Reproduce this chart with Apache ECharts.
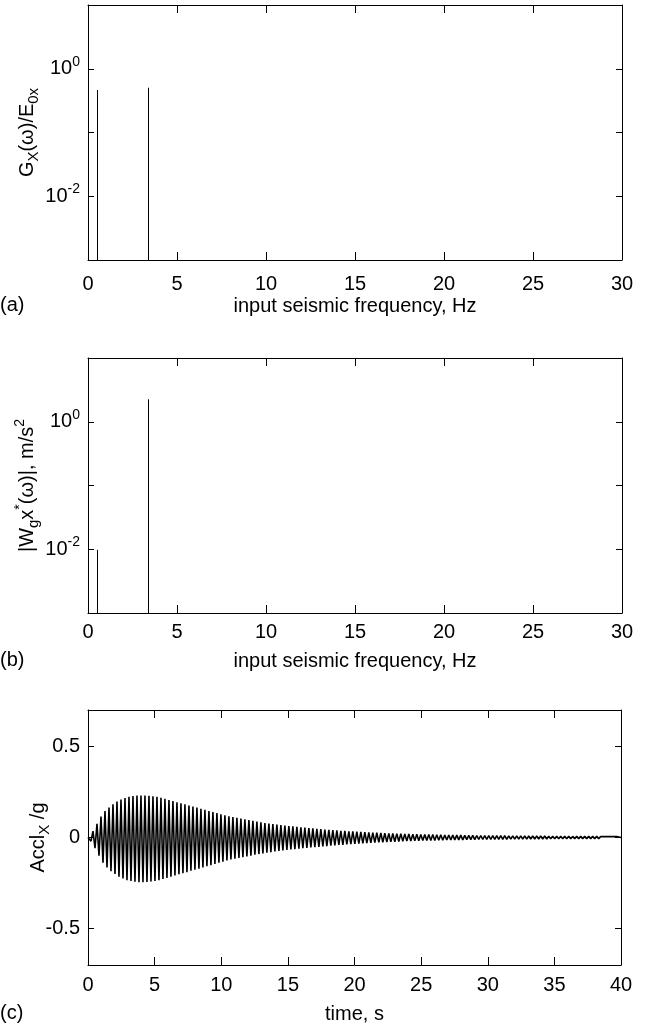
<!DOCTYPE html>
<html>
<head>
<meta charset="utf-8">
<script src="https://cdn.jsdelivr.net/npm/echarts/dist/echarts.min.js"></script>
<style>
html,body{margin:0;padding:0;background:#fff;}
#chart{width:648px;height:1026px;}
</style>
</head>
<body>
<div id="chart"></div>
<script>
// ---------- DATA ----------
// Panel (a): normalised spectrum G_X(w)/E_0x
const gxFreq = [0.5, 3.37];
const gxValues = [0.464, 0.504];
// Panel (b): |W_gx*(w)|, m/s^2
const wgxFreq = [0.5, 3.37];
const wgxValues = [0.0098, 2.25];
// Log axis range and labelled exponents
const logMin = 0.001, logMax = 10;
const logLabelExponents = [0, -2];
// Frequency axis ticks
const freqMax = 30, freqStep = 5;
// Panel (c): acceleration time history, read as positive peaks and negative troughs per cycle
const cyclePeriod = 0.3; // s
const accelPeaks = [
  0.01, 0.035, 0.075, 0.115, 0.145, 0.165, 0.183, 0.197, 0.208, 0.217,
  0.224, 0.228, 0.23, 0.231, 0.231, 0.229, 0.227, 0.223, 0.218, 0.212,
  0.206, 0.2, 0.194, 0.188, 0.182, 0.176, 0.17, 0.164, 0.158, 0.152,
  0.146, 0.14, 0.134, 0.128, 0.122, 0.116, 0.112, 0.108, 0.104, 0.1,
  0.096, 0.092, 0.088, 0.084, 0.08, 0.077, 0.074, 0.071, 0.068, 0.066,
  0.063, 0.061, 0.058, 0.056, 0.054, 0.052, 0.05, 0.048, 0.046, 0.044,
  0.042, 0.041, 0.039, 0.037, 0.036, 0.034, 0.033, 0.032, 0.031, 0.029,
  0.028, 0.027, 0.026, 0.025, 0.024, 0.023, 0.022, 0.021, 0.021, 0.02,
  0.019, 0.018, 0.018, 0.017, 0.017, 0.016, 0.016, 0.015, 0.015, 0.014,
  0.014, 0.013, 0.013, 0.013, 0.012, 0.012, 0.012, 0.011, 0.011, 0.011,
  0.011, 0.01, 0.01, 0.01, 0.01, 0.009, 0.009, 0.009, 0.009, 0.009,
  0.008, 0.008, 0.008, 0.008, 0.008, 0.007, 0.007, 0.007, 0.007, 0.007,
  0.007, 0.006, 0.006, 0.006, 0.006, 0.006, 0.006, 0.006, 0.005, 0.005,
  0.005, 0.005, 0.005
];
const accelTroughs = [
  -0.02, -0.058, -0.1, -0.138, -0.164, -0.185, -0.2, -0.215, -0.225, -0.234,
  -0.239, -0.243, -0.245, -0.245, -0.244, -0.242, -0.239, -0.234, -0.228, -0.222,
  -0.215, -0.209, -0.202, -0.196, -0.19, -0.183, -0.177, -0.171, -0.164, -0.158,
  -0.152, -0.145, -0.139, -0.133, -0.126, -0.121, -0.117, -0.112, -0.108, -0.104,
  -0.1, -0.095, -0.091, -0.087, -0.084, -0.081, -0.077, -0.074, -0.071, -0.068,
  -0.066, -0.064, -0.061, -0.059, -0.057, -0.055, -0.053, -0.051, -0.049, -0.047,
  -0.045, -0.043, -0.041, -0.04, -0.038, -0.036, -0.035, -0.034, -0.032, -0.031,
  -0.029, -0.028, -0.027, -0.026, -0.025, -0.024, -0.023, -0.022, -0.021, -0.02,
  -0.019, -0.018, -0.018, -0.017, -0.017, -0.016, -0.016, -0.015, -0.015, -0.014,
  -0.014, -0.013, -0.013, -0.013, -0.012, -0.012, -0.012, -0.011, -0.011, -0.011,
  -0.011, -0.01, -0.01, -0.01, -0.01, -0.009, -0.009, -0.009, -0.009, -0.009,
  -0.008, -0.008, -0.008, -0.008, -0.008, -0.007, -0.007, -0.007, -0.007, -0.007,
  -0.007, -0.006, -0.006, -0.006, -0.006, -0.006, -0.006, -0.006, -0.005, -0.005,
  -0.005, -0.005, -0.005
];
const timeMax = 40, timeStep = 5;
const accelMin = -0.7, accelMax = 0.7;
const accelTicks = [-0.5, 0, 0.5];

// ---------- BUILD ----------
const accelData = [[0, 0]];
for (let j = 0; j < accelPeaks.length; j++) {
  accelData.push([j * cyclePeriod + cyclePeriod / 4, accelPeaks[j]]);
  accelData.push([j * cyclePeriod + 3 * cyclePeriod / 4, accelTroughs[j]]);
}
accelData.push([timeMax, 0]);

const FONT = "'Liberation Sans', Arial, Helvetica, sans-serif";
const FS = 20;
const black = '#000';
const richBase = {
  n: {fontSize: FS, fontFamily: FONT, color: black, lineHeight: 28, verticalAlign: 'middle'},
  sub: {fontSize: 15, fontFamily: FONT, color: black, lineHeight: 28, verticalAlign: 'bottom'},
  sup: {fontSize: 14, fontFamily: FONT, color: black, lineHeight: 28, verticalAlign: 'top'}
};

const grids = [
  {left: 88, top: 5, width: 534, height: 255},
  {left: 88, top: 358, width: 534, height: 255},
  {left: 88, top: 710, width: 533, height: 255}
];

function axLine() { return {show: true, onZero: false, lineStyle: {color: black, width: 1}}; }

function xAxes(gi, max, step, name, labelMargin, nameGap) {
  return [
    {
      type: 'value', gridIndex: gi, position: 'bottom', min: 0, max: max, interval: step,
      axisLine: axLine(), splitLine: {show: false},
      axisTick: {inside: true, length: 8, lineStyle: {color: black, width: 1}},
      axisLabel: {color: black, fontSize: FS, fontFamily: FONT, margin: labelMargin},
      name: name, nameLocation: 'middle', nameGap: nameGap, nameMoveOverlap: false,
      nameTextStyle: {color: black, fontSize: FS, fontFamily: FONT}
    },
    {
      type: 'value', gridIndex: gi, position: 'top', min: 0, max: max, interval: step,
      axisLine: axLine(), splitLine: {show: false},
      axisTick: {inside: true, length: 8, lineStyle: {color: black, width: 1}},
      axisLabel: {show: false}
    }
  ];
}

function logLabel(v) {
  const e = Math.round(Math.log10(v));
  if (logLabelExponents.indexOf(e) >= 0) return '{n|10}{sup|' + e + '}';
  return '';
}

function logYAxes(gi, name, nameGap) {
  return [
    {
      type: 'log', logBase: 10, gridIndex: gi, position: 'left', min: logMin, max: logMax, interval: 1,
      axisLine: axLine(), splitLine: {show: false}, minorTick: {show: false},
      axisTick: {inside: true, length: 6, lineStyle: {color: black, width: 1}},
      axisLabel: {formatter: logLabel, rich: richBase, margin: 8},
      name: name, nameLocation: 'middle', nameGap: nameGap, nameRotate: 90, nameMoveOverlap: false,
      nameTextStyle: {rich: richBase}
    },
    {
      type: 'log', logBase: 10, gridIndex: gi, position: 'right', min: logMin, max: logMax, interval: 1,
      axisLine: axLine(), splitLine: {show: false},
      axisTick: {inside: true, length: 6, lineStyle: {color: black, width: 1}},
      axisLabel: {show: false}
    }
  ];
}

const xAxis = [].concat(
  xAxes(0, freqMax, freqStep, 'input seismic frequency, Hz', 14, 36),
  xAxes(1, freqMax, freqStep, 'input seismic frequency, Hz', 9, 38),
  xAxes(2, timeMax, timeStep, 'time, s', 10, 39)
);

const yAxis = [].concat(
  logYAxes(0, '{n|G}{sub|X}{n|(ω)/E}{sub|0x}', 47),
  logYAxes(1, '{n||W}{sub|g}{n|x}{sup|*}{n|(ω)|, m/s}{sup|2}', 47),
  [
    {
      type: 'value', gridIndex: 2, position: 'left', min: accelMin, max: accelMax,
      axisLine: axLine(), splitLine: {show: false},
      axisTick: {inside: true, length: 6, customValues: accelTicks, lineStyle: {color: black, width: 1}},
      axisLabel: {customValues: accelTicks, color: black, fontSize: FS, fontFamily: FONT, margin: 8,
        formatter: v => String(v)},
      name: '{n|Accl}{sub|X}{n| /g}', nameLocation: 'middle', nameGap: 36, nameRotate: 90, nameMoveOverlap: false,
      nameTextStyle: {rich: richBase}
    },
    {
      type: 'value', gridIndex: 2, position: 'right', min: accelMin, max: accelMax,
      axisLine: axLine(), splitLine: {show: false},
      axisTick: {inside: true, length: 6, customValues: accelTicks, lineStyle: {color: black, width: 1}},
      axisLabel: {show: false}
    }
  ]
);

function stemRender(params, api) {
  const x = api.value(0), y = api.value(1);
  const p0 = api.coord([x, logMin]);
  const p1 = api.coord([x, y]);
  const px = Math.round(p0[0]) + 0.5;
  return {
    type: 'line',
    shape: {x1: px, y1: p0[1], x2: px, y2: p1[1]},
    style: {stroke: black, lineWidth: 1}
  };
}

const option = {
  animation: false,
  backgroundColor: '#fff',
  grid: grids,
  xAxis: xAxis,
  yAxis: yAxis,
  graphic: [
    {type: 'text', left: 0, top: 295, style: {text: '(a)', fontSize: FS, fontFamily: FONT, fill: black}},
    {type: 'text', left: 0, top: 650, style: {text: '(b)', fontSize: FS, fontFamily: FONT, fill: black}},
    {type: 'text', left: 0, top: 1003, style: {text: '(c)', fontSize: FS, fontFamily: FONT, fill: black}}
  ],
  series: [
    {
      type: 'custom', xAxisIndex: 0, yAxisIndex: 0, renderItem: stemRender,
      data: gxFreq.map((f, i) => [f, gxValues[i]]), clip: true
    },
    {
      type: 'custom', xAxisIndex: 2, yAxisIndex: 2, renderItem: stemRender,
      data: wgxFreq.map((f, i) => [f, wgxValues[i]]), clip: true
    },
    {
      type: 'line', xAxisIndex: 4, yAxisIndex: 4, data: accelData,
      showSymbol: false, symbol: 'none',
      lineStyle: {color: black, width: 1.6}, silent: true
    }
  ]
};

const chart = echarts.init(document.getElementById('chart'), null, {renderer: 'canvas'});
chart.setOption(option);
</script>
</body>
</html>
